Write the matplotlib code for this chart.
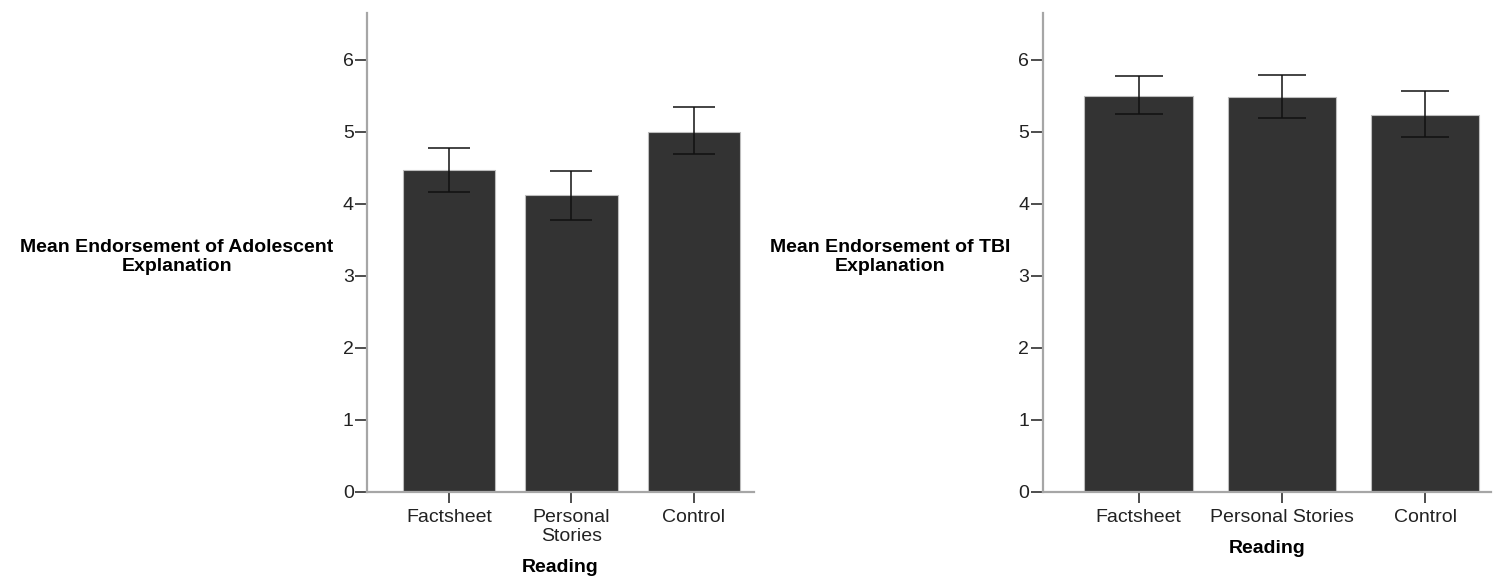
import matplotlib as mpl
import matplotlib.pyplot as plt
import numpy as np

# Reading conditions
left_cats = ["Factsheet", "Personal\nStories", "Control"]
right_cats = ["Factsheet", "Personal Stories", "Control"]

# mean endorsement and 95% CI bounds
adol_mean = [4.47, 4.12, 5.00]
adol_lo = [4.16, 3.77, 4.69]
adol_hi = [4.77, 4.45, 5.34]

tbi_mean = [5.50, 5.49, 5.24]
tbi_lo = [5.25, 5.19, 4.93]
tbi_hi = [5.77, 5.79, 5.56]

yticks = [0, 1, 2, 3, 4, 5, 6]

C_BAR = "#333333"
C_EDGE = "#bdbdbd"
C_SPINE = "#a6a6a6"
C_TICK = "#4d4d4d"

mpl.rcParams.update({
    "font.family": ["Liberation Sans", "DejaVu Sans"],
    "font.size": 14,
})


def draw(ax, cats, mean, lo, hi, xlim_right, capsize):
    x = np.arange(len(cats))
    mean = np.asarray(mean)
    yerr = [mean - np.asarray(lo), np.asarray(hi) - mean]
    ax.bar(x, mean, width=0.755, color=C_BAR, edgecolor=C_EDGE, linewidth=0.8,
           zorder=2)
    ax.errorbar(x, mean, yerr=yerr, fmt="none", ecolor="#111111", elinewidth=1.1,
                capsize=capsize, capthick=1.1, zorder=3)
    ax.set_xlim(-0.67, xlim_right)
    ax.set_ylim(0, 6.65)
    ax.set_xticks(x)
    ax.set_xticklabels(cats, color="#222222")
    ax.set_yticks(yticks)
    ax.set_yticklabels([str(t) for t in yticks], color="#222222")
    for s in ("top", "right"):
        ax.spines[s].set_visible(False)
    for s in ("left", "bottom"):
        ax.spines[s].set_color(C_SPINE)
        ax.spines[s].set_linewidth(1.6)
    ax.tick_params(axis="y", length=9, width=1.4, color=C_TICK, pad=0.5)
    ax.tick_params(axis="x", length=8, width=1.4, color=C_TICK, pad=4)
    ax.set_xlabel("Reading", fontweight="bold", labelpad=10)


fig = plt.figure(figsize=(14.99, 5.85), dpi=100)
axL = fig.add_axes([0.2448, 0.159, 0.2582, 0.8188])
axR = fig.add_axes([0.6955, 0.159, 0.2992, 0.8188])

draw(axL, left_cats, adol_mean, adol_lo, adol_hi, 2.49, 15)
draw(axR, right_cats, tbi_mean, tbi_lo, tbi_hi, 2.46, 17.5)

fig.text(0.118, 0.561, "Mean Endorsement of Adolescent\nExplanation",
         ha="center", va="center", multialignment="center", fontweight="bold")
fig.text(0.594, 0.561, "Mean Endorsement of TBI\nExplanation",
         ha="center", va="center", multialignment="center", fontweight="bold")

fig.savefig("out.png", dpi=100, facecolor="white")
